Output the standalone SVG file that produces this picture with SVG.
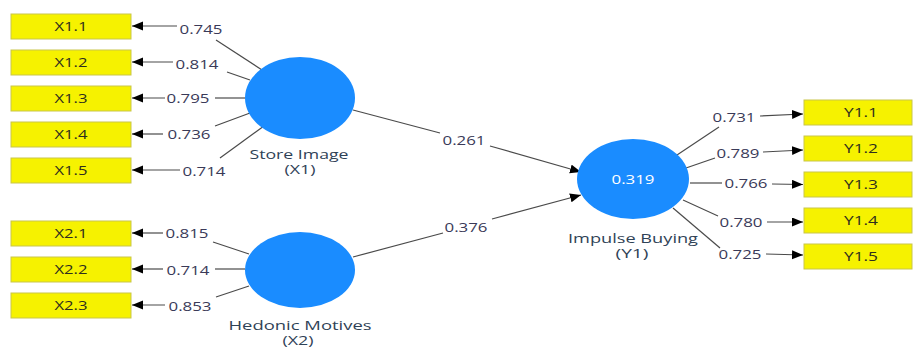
<svg xmlns="http://www.w3.org/2000/svg" width="913" height="347" viewBox="0 0 913 347">
<style>
.ind{fill:#f6f200;stroke:#c9c64a;stroke-width:1}
.lv{fill:#1a8cff}
.bt{font-family:"Open Sans","Noto Sans",sans-serif;font-size:13px;fill:#2e2e1e;text-anchor:middle}
.num{font-family:"Open Sans","Noto Sans",sans-serif;font-size:13px;fill:#3a3a58;text-anchor:middle}
.lbl{font-family:"Open Sans","Noto Sans",sans-serif;font-size:12px;fill:#2f4256;text-anchor:middle}
.r2{font-family:"Open Sans","Noto Sans",sans-serif;font-size:13px;fill:#ffffff;text-anchor:middle}
.c{fill:none;stroke:#4a4a4a;stroke-width:1.2}
.a{marker-end:url(#arr)}
</style>
<defs>
<marker id="arr" markerUnits="userSpaceOnUse" markerWidth="12" markerHeight="10" refX="11" refY="4.5" orient="auto">
<path d="M0,0 L11,4.5 L0,9 z" fill="#000"/>
</marker>
</defs>
<rect width="913" height="347" fill="#fff"/>

<g id="connectors">
<polyline class="c" points="262,70 216,40"/><line class="c a" x1="177" y1="26" x2="132" y2="26"/>
<polyline class="c" points="250,80 227,72"/><line class="c a" x1="173" y1="62" x2="132" y2="62"/>
<polyline class="c" points="245,98 215,98"/><line class="c a" x1="165" y1="98" x2="132" y2="98"/>
<polyline class="c" points="250,113 215,126"/><line class="c a" x1="163" y1="134" x2="132" y2="134"/>
<polyline class="c" points="264,126 220,158"/><line class="c a" x1="180" y1="170" x2="132" y2="170"/>
<polyline class="c" points="249,254 213,242"/><line class="c a" x1="163" y1="233" x2="132" y2="233"/>
<polyline class="c" points="245,269 215,269"/><line class="c a" x1="163" y1="269" x2="132" y2="269"/>
<polyline class="c" points="249,286 216,297"/><line class="c a" x1="165" y1="305" x2="132" y2="305"/>
<line class="c" x1="353" y1="110" x2="440" y2="133"/><line class="c a" x1="490" y1="146" x2="581" y2="172"/>
<line class="c" x1="353" y1="257" x2="443" y2="233"/><line class="c a" x1="492" y1="219" x2="581" y2="195"/>
<line class="c" x1="674" y1="157" x2="719" y2="127"/><line class="c a" x1="760" y1="116" x2="803" y2="114"/>
<line class="c" x1="686" y1="168" x2="715" y2="158"/><line class="c a" x1="763" y1="152" x2="803" y2="150"/>
<line class="c" x1="690" y1="183" x2="722" y2="183"/><line class="c a" x1="772" y1="184" x2="803" y2="184.5"/>
<line class="c" x1="683" y1="200" x2="718" y2="216"/><line class="c a" x1="767" y1="222" x2="803" y2="222"/>
<line class="c" x1="673" y1="208" x2="720" y2="248"/><line class="c a" x1="766" y1="254" x2="803" y2="255"/>
<text class="num" x="201" y="33.5" textLength="43" lengthAdjust="spacingAndGlyphs">0.745</text>
<text class="num" x="197" y="68.5" textLength="43" lengthAdjust="spacingAndGlyphs">0.814</text>
<text class="num" x="188" y="102.5" textLength="43" lengthAdjust="spacingAndGlyphs">0.795</text>
<text class="num" x="189" y="138.5" textLength="43" lengthAdjust="spacingAndGlyphs">0.736</text>
<text class="num" x="204" y="175.5" textLength="43" lengthAdjust="spacingAndGlyphs">0.714</text>
<text class="num" x="187" y="237.5" textLength="43" lengthAdjust="spacingAndGlyphs">0.815</text>
<text class="num" x="188" y="274.5" textLength="43" lengthAdjust="spacingAndGlyphs">0.714</text>
<text class="num" x="190" y="310.5" textLength="43" lengthAdjust="spacingAndGlyphs">0.853</text>
<text class="num" x="464" y="144.5" textLength="43" lengthAdjust="spacingAndGlyphs">0.261</text>
<text class="num" x="466" y="231.5" textLength="43" lengthAdjust="spacingAndGlyphs">0.376</text>
<text class="num" x="734" y="121.5" textLength="43" lengthAdjust="spacingAndGlyphs">0.731</text>
<text class="num" x="738" y="157.5" textLength="43" lengthAdjust="spacingAndGlyphs">0.789</text>
<text class="num" x="746" y="187.5" textLength="43" lengthAdjust="spacingAndGlyphs">0.766</text>
<text class="num" x="741" y="226.5" textLength="43" lengthAdjust="spacingAndGlyphs">0.780</text>
<text class="num" x="740" y="258.5" textLength="43" lengthAdjust="spacingAndGlyphs">0.725</text>
</g>

<g id="X1.1"><rect class="ind" x="11" y="14" width="120" height="25"/><text class="bt" x="71" y="31" textLength="33" lengthAdjust="spacingAndGlyphs">X1.1</text></g>
<g id="X1.2"><rect class="ind" x="11" y="50" width="120" height="25"/><text class="bt" x="71" y="67" textLength="33" lengthAdjust="spacingAndGlyphs">X1.2</text></g>
<g id="X1.3"><rect class="ind" x="11" y="86" width="120" height="25"/><text class="bt" x="71" y="103" textLength="33" lengthAdjust="spacingAndGlyphs">X1.3</text></g>
<g id="X1.4"><rect class="ind" x="11" y="122" width="120" height="25"/><text class="bt" x="71" y="139" textLength="33" lengthAdjust="spacingAndGlyphs">X1.4</text></g>
<g id="X1.5"><rect class="ind" x="11" y="158" width="120" height="25"/><text class="bt" x="71" y="175" textLength="33" lengthAdjust="spacingAndGlyphs">X1.5</text></g>
<g id="X2.1"><rect class="ind" x="11" y="221" width="120" height="25"/><text class="bt" x="71" y="238" textLength="33" lengthAdjust="spacingAndGlyphs">X2.1</text></g>
<g id="X2.2"><rect class="ind" x="11" y="257" width="120" height="25"/><text class="bt" x="71" y="274" textLength="33" lengthAdjust="spacingAndGlyphs">X2.2</text></g>
<g id="X2.3"><rect class="ind" x="11" y="293" width="120" height="25"/><text class="bt" x="71" y="310" textLength="33" lengthAdjust="spacingAndGlyphs">X2.3</text></g>

<g id="Y1.1"><rect class="ind" x="804" y="100" width="108" height="25"/><text class="bt" x="861" y="117" textLength="34" lengthAdjust="spacingAndGlyphs">Y1.1</text></g>
<g id="Y1.2"><rect class="ind" x="804" y="136" width="108" height="25"/><text class="bt" x="861" y="153" textLength="34" lengthAdjust="spacingAndGlyphs">Y1.2</text></g>
<g id="Y1.3"><rect class="ind" x="804" y="172" width="108" height="25"/><text class="bt" x="861" y="189" textLength="34" lengthAdjust="spacingAndGlyphs">Y1.3</text></g>
<g id="Y1.4"><rect class="ind" x="804" y="208" width="108" height="25"/><text class="bt" x="861" y="225" textLength="34" lengthAdjust="spacingAndGlyphs">Y1.4</text></g>
<g id="Y1.5"><rect class="ind" x="804" y="244" width="108" height="25"/><text class="bt" x="861" y="261" textLength="34" lengthAdjust="spacingAndGlyphs">Y1.5</text></g>

<g id="StoreImage">
<ellipse class="lv" cx="300" cy="98" rx="55" ry="41"/>
<text class="lbl" x="299" y="159" textLength="99" lengthAdjust="spacingAndGlyphs">Store Image</text>
<text class="lbl" x="300" y="174" textLength="31" lengthAdjust="spacingAndGlyphs">(X1)</text>
</g>
<g id="HedonicMotives">
<ellipse class="lv" cx="300" cy="270" rx="55" ry="38"/>
<text class="lbl" x="300" y="330" textLength="143" lengthAdjust="spacingAndGlyphs">Hedonic Motives</text>
<text class="lbl" x="298" y="345" textLength="31" lengthAdjust="spacingAndGlyphs">(X2)</text>
</g>
<g id="ImpulseBuying">
<ellipse class="lv" cx="633" cy="179" rx="56" ry="40"/>
<text class="r2" x="633" y="184" textLength="43" lengthAdjust="spacingAndGlyphs">0.319</text>
<text class="lbl" x="633" y="243" textLength="130" lengthAdjust="spacingAndGlyphs">Impulse Buying</text>
<text class="lbl" x="632" y="258" textLength="33" lengthAdjust="spacingAndGlyphs">(Y1)</text>
</g>
</svg>
